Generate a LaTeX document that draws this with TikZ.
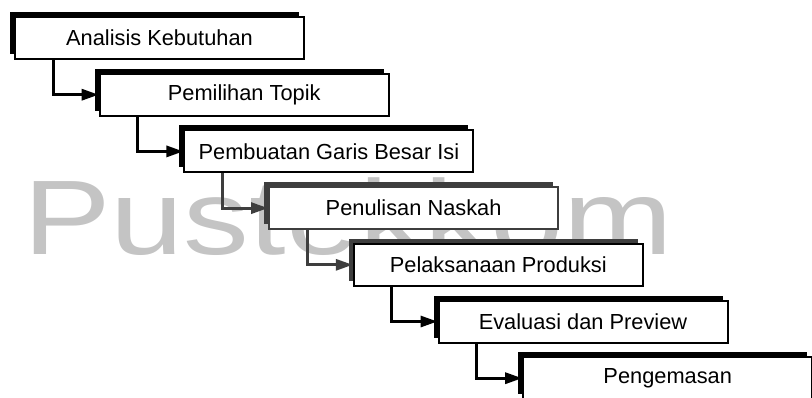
\documentclass[tikz,border=0pt]{standalone}
\usepackage{fontspec}
\usepackage{graphicx}
\setmainfont{Liberation Sans}
\usetikzlibrary{arrows.meta,shadows}
\definecolor{ink}{RGB}{0,0,0}
\definecolor{inkfade}{RGB}{62,62,62}
\definecolor{watermark}{RGB}{196,196,196}

\tikzset{
  stepbox/.style={draw=ink, line width=1pt, fill=white, text=ink, inner sep=0pt,
    minimum width=144.5pt, minimum height=21pt,
    font=\fontsize{10.9pt}{13pt}\selectfont,
    drop shadow={shadow xshift=-2.5pt, shadow yshift=2.5pt, fill=#1, opacity=1}},
  stepbox/.default=ink,
  link/.style={draw=ink, line width=1.5pt, -{Triangle[length=8.5pt,width=5.5pt]}}
}

\begin{document}
\begin{tikzpicture}[x=0.5pt, y=-0.5pt]
\useasboundingbox (0,0) rectangle (812,397);
% watermark
\node[anchor=base west, inner sep=0pt, text=watermark, font=\fontsize{53pt}{60pt}\selectfont]
  (wm) at (22.6,254) {\scalebox{1.24}[1]{Pustekkom}};
% steps
\node[stepbox] (b1) at (159.5,38) {Analisis Kebutuhan};
\node[stepbox] (b2) at (244.2,94.7) {Pemilihan Topik};
\node[stepbox] (b3) at (328.9,151.4) {Pembuatan Garis Besar Isi};
\node[stepbox=inkfade, draw=inkfade] (b4) at (413.6,208.1) {Penulisan Naskah};
\node[stepbox=inkfade] (b5) at (498.3,264.8) {Pelaksanaan Produksi};
\node[stepbox] (b6) at (583,321.5) {Evaluasi dan Preview};
\node[stepbox] (b7) at (667.7,378.2) {Pengemasan};
% connectors
\foreach \a/\b in {1/2,2/3,5/6,6/7}
  \draw[link] ([xshift=19.5pt]b\a.south west) |- (b\b.west);
\foreach \a/\b in {3/4,4/5}
  \draw[link, draw=inkfade] ([xshift=19.5pt]b\a.south west) |- (b\b.west);
\end{tikzpicture}
\end{document}
